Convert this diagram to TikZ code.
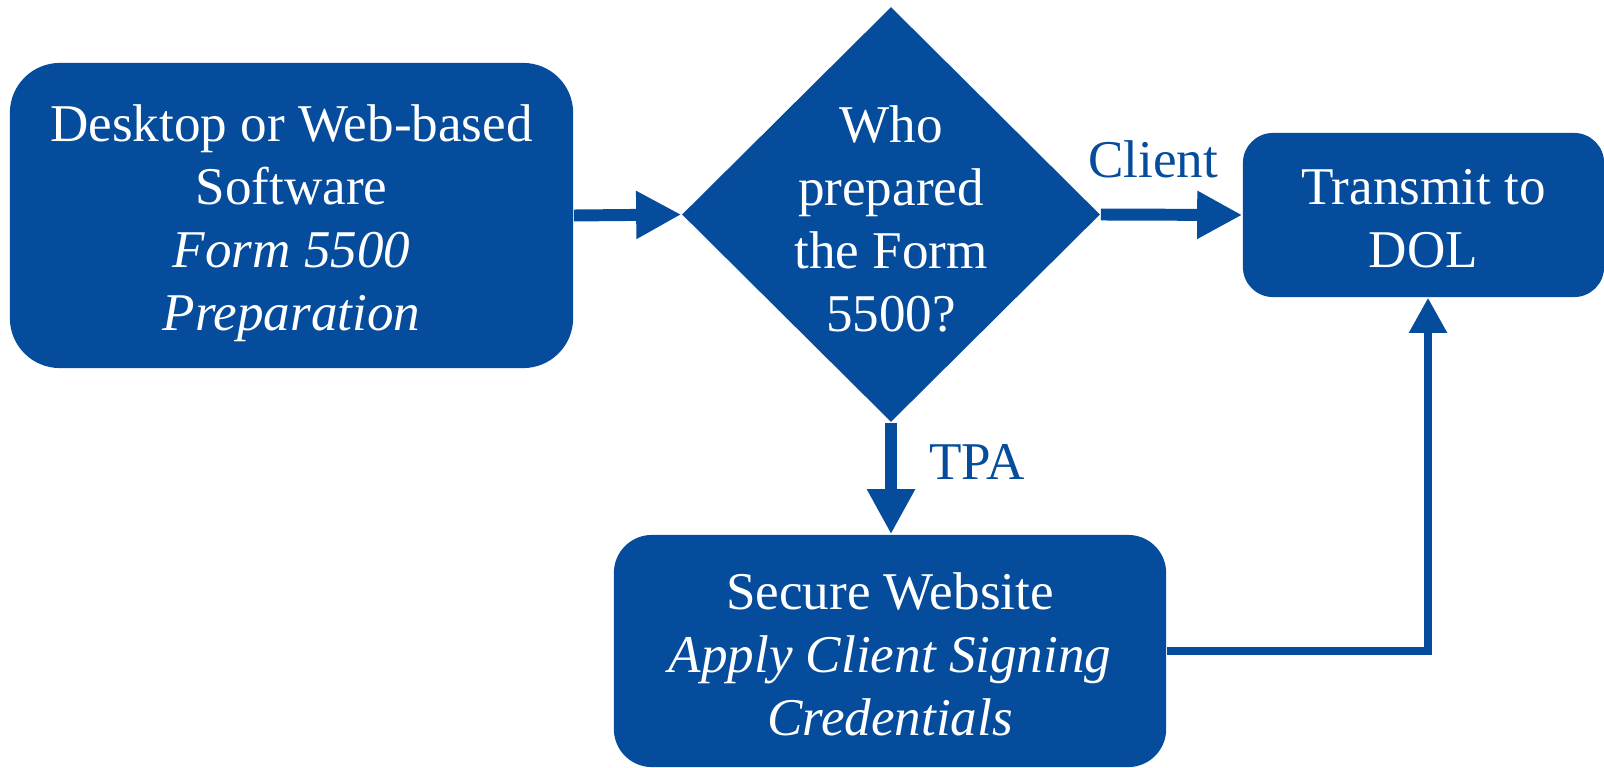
\documentclass[tikz,border=0pt]{standalone}
\usepackage{fontspec}
\setmainfont{Liberation Serif}
\usepackage{tikz}
\usetikzlibrary{positioning,shapes.geometric}
\usetikzlibrary{calc,arrows.meta}

\definecolor{dolblue}{RGB}{5,76,156}

\begin{document}
\begin{tikzpicture}
	[   x=0.01cm,y=-0.01cm,
		bnode/.style={draw=none,fill=dolblue,inner sep=0pt,rounded corners=#1},
		dnode/.style={draw=none,fill=dolblue,diamond,inner sep=0pt,minimum width=4.18cm,minimum height=4.15cm},
		tnode/.style={text=white,align=center,inner sep=0pt},
		lbl/.style={text=dolblue,inner sep=0pt},
		font=\fontsize{15.1}{17.9}\selectfont,
	]
	\tikzset{normal arrow/.style={draw=dolblue,line width=3.4pt,-{Triangle[length=0.45cm,width=0.45cm]}}}
	\tikzset{thin arrow/.style={draw=dolblue,line width=2.3pt,-{Triangle[length=0.35cm,width=0.36cm]}}}
	\useasboundingbox (0,0) rectangle (1604,767);
	
	\node[bnode=0.5cm,minimum width=5.63cm,minimum height=3.05cm] (sw) at (291.5,215.5) {};
	\node[tnode] (sw-t) at (291.5,223) {Desktop or Web-based\\Software\\\textit{Form 5500}\\\textit{Preparation}};
	\node[dnode] (q) at (891,214.5) {};
	\node[tnode] (q-t) at (891,219) {Who\\prepared\\the Form\\5500?};
	\node[bnode=0.3cm,minimum width=3.61cm,minimum height=1.64cm] (dol) at (1423.5,215) {};
	\node[tnode] (dol-t) at (1423.5,219) {Transmit to\\DOL};
	\node[bnode=0.38cm,minimum width=5.52cm,minimum height=2.32cm] (web) at (890,651) {};
	\node[tnode] (web-t) at (890,654) {Secure Website\\\textit{Apply Client Signing}\\\textit{Credentials}};
	
	\node[lbl] (client) at (1153,159) {Client};
	\node[lbl] (tpa) at (977,462) {TPA};
	
	\path[normal arrow] (sw.east) -- (q.west);
	\path[normal arrow] (q.east) -- (dol.west);
	\path[normal arrow] (q.south) -- (q.south |- web.north);
	\path[thin arrow] (web.east) -| ([xshift=0.045cm]dol.south);
\end{tikzpicture}
\end{document}
